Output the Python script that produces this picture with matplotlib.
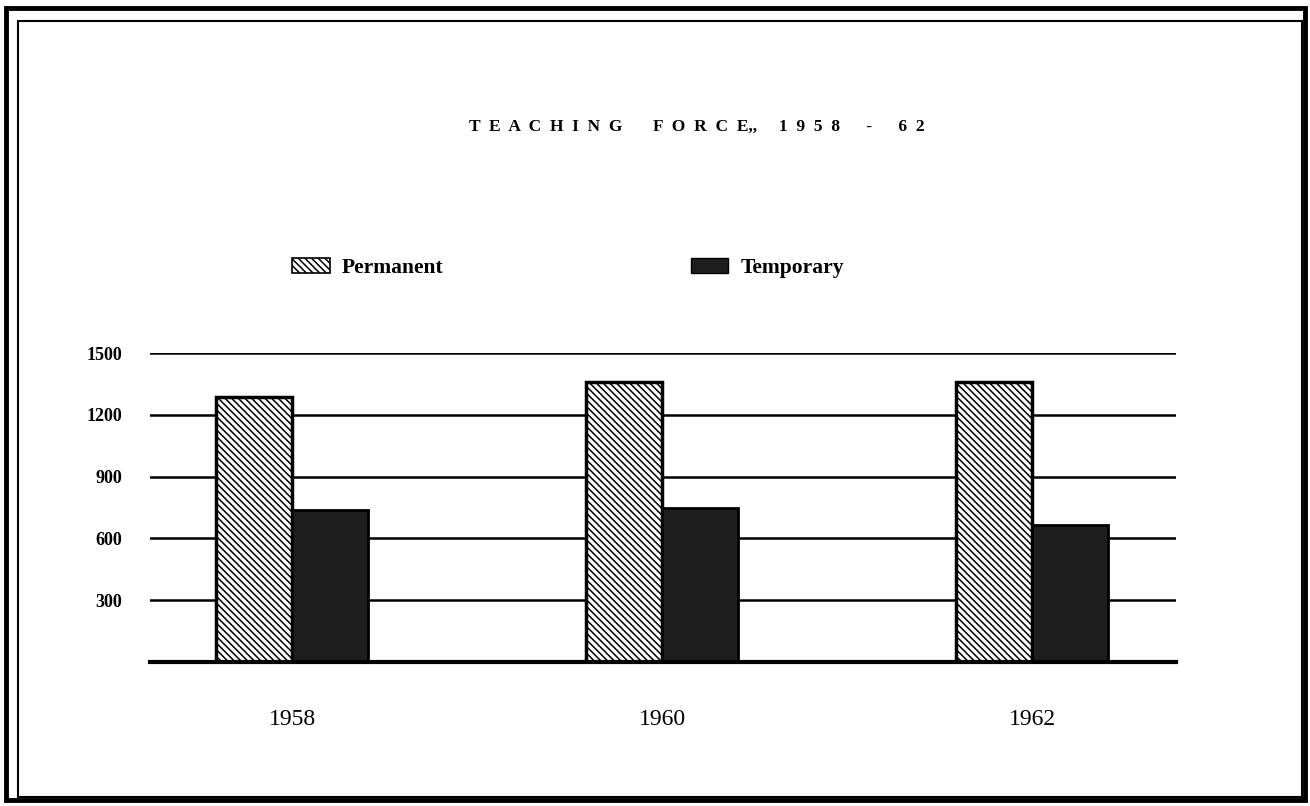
import numpy as np
import matplotlib
matplotlib.use("Agg")
import matplotlib.pyplot as plt
from matplotlib.patches import Rectangle, Patch

# data
years = ["1958", "1960", "1962"]
permanent = [1285, 1360, 1360]
temporary = [740, 748, 665]
y_ticks = [300, 600, 900, 1200, 1500]

plt.rcParams['font.family'] = ['Liberation Serif', 'DejaVu Serif']
plt.rcParams['hatch.linewidth'] = 1.1

W, H = 1310, 806
fig = plt.figure(figsize=(W / 100, H / 100), dpi=100)

# axes box in pixels: left 150, right 1176, y=0 at 662, y=1500 at 353
ax = fig.add_axes([150 / W, 1 - 662 / H, (1176 - 150) / W, (662 - 353) / H])

x = np.arange(len(years))
bw = 0.205
ax.bar(x - bw / 2, permanent, bw, facecolor='white', edgecolor='black',
       hatch='\\\\\\\\\\', linewidth=2.5, zorder=3, label='Permanent')
ax.bar(x + bw / 2, temporary, bw, facecolor='#1e1e1e', edgecolor='black',
       linewidth=2.0, zorder=3, label='Temporary')

ax.set_xlim(-0.384, 2.389)
ax.set_ylim(0, 1500)
ax.set_yticks(y_ticks)
ax.set_yticklabels([str(v) for v in y_ticks], fontsize=13, fontweight='bold')
ax.set_xticks(x)
ax.set_xticklabels(years, fontsize=17)
ax.tick_params(axis='y', length=0, pad=20)
ax.tick_params(axis='x', length=0, pad=34)

ax.set_axisbelow(True)
ax.yaxis.grid(True, color='black', linewidth=1.8)
for s in ['top', 'left', 'right']:
    ax.spines[s].set_visible(False)
ax.spines['bottom'].set_linewidth(3)
ax.spines['bottom'].set_zorder(4)

# title with wide letter spacing
title = "T  E  A  C  H  I  N  G       F  O  R  C  E,,     1  9  5  8      -      6  2"
fig.text(697 / W, 1 - 127 / H, title, ha='center', va='center',
         fontsize=12.5, fontweight='bold')

# legend
handles = [Patch(facecolor='white', edgecolor='black', hatch='\\\\\\\\\\', linewidth=1.2),
           Patch(facecolor='#1e1e1e', edgecolor='black', linewidth=1.0)]
fig.legend(handles, ['Permanent', 'Temporary'], loc='center left',
           bbox_to_anchor=(292 / W, 1 - 268 / H), ncol=2, frameon=False,
           prop={'size': 15.5, 'weight': 'bold'}, handlelength=1.75,
           handleheight=0.65, handletextpad=0.55, columnspacing=11.5,
           borderpad=0, borderaxespad=0)

# double frame around the page
fig.add_artist(Rectangle((6 / W, 1 - 800 / H), (1305 - 6) / W, (800 - 8) / H,
                         transform=fig.transFigure, fill=False,
                         edgecolor='black', linewidth=3.5))
fig.add_artist(Rectangle((18 / W, 1 - 797 / H), (1302 - 18) / W, (797 - 21) / H,
                         transform=fig.transFigure, fill=False,
                         edgecolor='black', linewidth=1.5))

fig.savefig("out.png", dpi=100)
